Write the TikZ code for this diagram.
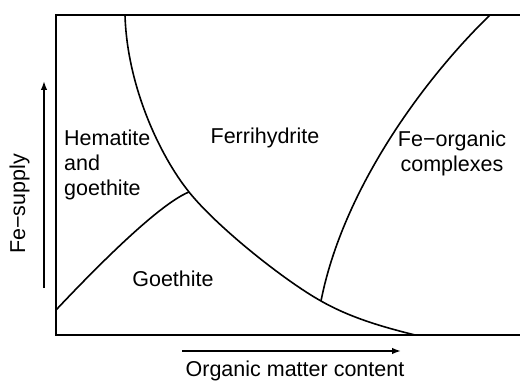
\documentclass[tikz,border=0pt]{standalone}
\usepackage{fontspec}
\setmainfont{Liberation Sans}
\usetikzlibrary{
  arrows.meta,
  positioning,
}

\begin{document}
\begin{tikzpicture}[
  x=1pt, y=1pt,
  every node/.style={font=\fontsize{21.5}{25}\selectfont, inner sep=0pt},
  frame/.style={line width=2pt},
  boundary/.style={line width=1.6pt},
  axisarrow/.style={line width=1.6pt, -{Latex[length=9pt,width=6.5pt]}},
  region/.style={align=left},
]
  \useasboundingbox (0,0) rectangle (520,381);

  % Frame (open on the right)
  \draw[frame] (521,366) -- (56,366) -- (56,46) -- (521,46);

  % Triple points and curve ends
  \coordinate (aTop) at (125,366);
  \coordinate (jA)   at (189,189);
  \coordinate (jB)   at (321,80);
  \coordinate (aBot) at (415,46);
  \coordinate (gLeft) at (56,71);
  \coordinate (oTop) at (490,366);

  % Boundaries
  \draw[boundary] (aTop) .. controls (127,295) and (160,225) .. (jA)
    .. controls (217,154) and (285,100) .. (jB)
    .. controls (351,63) and (383,54) .. (aBot);
  \draw[boundary] (gLeft) .. controls (90,107) and (157,176) .. (jA);
  \draw[boundary] (jB) .. controls (343,192) and (424,302) .. (oTop);

  % Region labels
  \node[region, anchor=north west] (hem) at (64,251) {Hematite\\and\\goethite};
  \node[anchor=base] (ferri) at (265,237) {Ferrihydrite};
  \node[align=center, anchor=north] (feorg) at (452,250) {Fe−organic\\complexes};
  \node[anchor=base] (goe) at (173,95) {Goethite};

  % Axes
  \coordinate (yS) at (44,93);
  \coordinate (yE) at (44,300);
  \coordinate (xS) at (182,30);
  \coordinate (xE) at (401,30);
  \draw[axisarrow] (yS) -- (yE);
  \draw[axisarrow] (xS) -- (xE);
  \node[rotate=90, anchor=base] (ylab) at (25,177) {Fe−supply};
  \node[anchor=base] (xlab) at (295,4.5) {Organic matter content};

\end{tikzpicture}
\end{document}
